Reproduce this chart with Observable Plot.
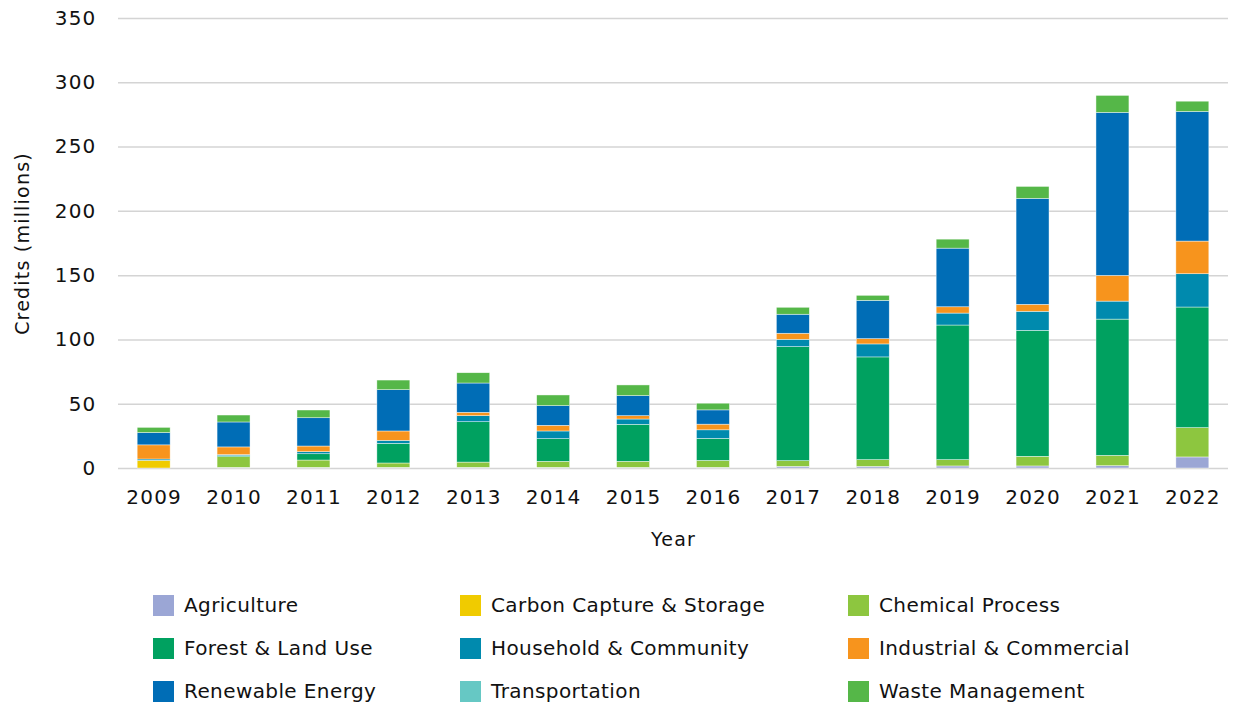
<!DOCTYPE html>
<html>
<head>
<meta charset="utf-8">
<script src="https://cdn.jsdelivr.net/npm/d3@7"></script>
<script src="https://cdn.jsdelivr.net/npm/@observablehq/plot@0.6"></script>
<style>
  html, body { margin: 0; padding: 0; background: #fff; }
  body { width: 1233px; height: 706px; overflow: hidden; font-family: "DejaVu Sans", sans-serif; }
  #legend { position: relative; height: 146px; }
  .item { position: absolute; display: flex; align-items: center; font-size: 20px; letter-spacing: 0.4px; color: #111; white-space: nowrap; }
  .sw { width: 21px; height: 21px; margin-right: 10px; }
</style>
</head>
<body>
<div id="chart"></div>
<div id="legend"></div>
<script>
const years = ["2009","2010","2011","2012","2013","2014","2015","2016","2017","2018","2019","2020","2021","2022"];
const categories = ["Agriculture","Carbon Capture & Storage","Chemical Process","Forest & Land Use","Household & Community","Industrial & Commercial","Renewable Energy","Transportation","Waste Management"];
const colors = ["#9BA6D5","#F0CB00","#8DC63F","#00A160","#008AAE","#F7941D","#006DB6","#66C8C4","#55B748"];

const agriculture    = [0, 0.5, 0.5, 0.5, 0.5, 0.5, 0.5, 0.5, 1.3, 1.3, 1.6, 1.6, 1.8, 8.6];
const carbonCapture  = [6, 0, 0, 0, 0, 0, 0, 0, 0, 0, 0, 0, 0, 0];
const chemical       = [0, 8.3, 5.7, 3.4, 4.1, 4.7, 4.7, 5.4, 4.4, 5.2, 4.9, 7.5, 8, 22.8];
const forest         = [0, 0.8, 4.9, 15.3, 31.4, 17.6, 28.8, 17.1, 88.7, 79.9, 104.7, 98, 106, 93.8];
const household      = [1, 0.8, 1.6, 2.3, 4.7, 6, 4.1, 6.7, 5.7, 10.1, 9.3, 14.8, 14, 25.9];
const industrial     = [11, 6, 4.4, 7.3, 2.6, 4.4, 2.6, 4.4, 4.7, 4.1, 4.9, 5.4, 20, 25.4];
const renewable      = [9.6, 19.4, 22, 32.1, 22.8, 15.3, 15.6, 11.1, 14.8, 29.8, 45.6, 82.4, 126.8, 100.8];
const transportation = [0, 0, 0, 0, 0, 0, 0, 0, 0, 0, 0, 0, 0, 0];
const waste          = [4, 5.4, 6, 7.5, 8, 8.3, 8.3, 5.2, 5.4, 3.9, 7, 9.3, 13.2, 8];
const yTicks = [0, 50, 100, 150, 200, 250, 300, 350];

const series = [agriculture, carbonCapture, chemical, forest, household, industrial, renewable, transportation, waste];
const data = [];
categories.forEach((c, i) => years.forEach((y, j) => data.push({year: y, category: c, value: series[i][j]})));

const chart = Plot.plot({
  width: 1233,
  height: 560,
  marginLeft: 118,
  marginRight: 5,
  marginTop: 18,
  marginBottom: 92,
  style: {fontFamily: "DejaVu Sans, sans-serif", fontSize: "20px", color: "#111", background: "#fff", letterSpacing: "1.2px"},
  x: {domain: years, paddingInner: 0.5875, paddingOuter: 0.24, round: false, label: null},
  y: {domain: [0, 350], label: null},
  color: {domain: categories, range: colors},
  marks: [
    Plot.gridY(yTicks, {stroke: "#d4d4d4", strokeOpacity: 1, strokeWidth: 1.5}),
    Plot.barY(data, {x: "year", y: "value", fill: "category", stroke: "#ffffff", strokeWidth: 0.6, strokeOpacity: 0.7}),
    Plot.axisY(yTicks, {tickSize: 0, tickPadding: 22, label: null, fontSize: "20px"}),
    Plot.text(["Credits (millions)"], {frameAnchor: "left", textAnchor: "middle", rotate: -90, dx: -96, fontSize: 19, fill: "#111", style: "letter-spacing:0.4px"}),
    Plot.axisX({tickSize: 0, tickPadding: 21, label: null, fontSize: "20px"}),
    Plot.text(["Year"], {frameAnchor: "bottom", dy: 77, fontSize: 19, fill: "#111"})
  ]
});
document.getElementById("chart").appendChild(chart);

const legend = document.getElementById("legend");
const colX = [153, 460, 848];
const rowY = [45, 88, 131];
categories.forEach((c, i) => {
  const el = document.createElement("div");
  el.className = "item";
  el.style.left = colX[i % 3] + "px";
  el.style.top = (rowY[Math.floor(i / 3)] - 12) + "px";
  el.innerHTML = `<div class="sw" style="background:${colors[i]}"></div><span>${c}</span>`;
  legend.appendChild(el);
});
</script>
</body>
</html>
